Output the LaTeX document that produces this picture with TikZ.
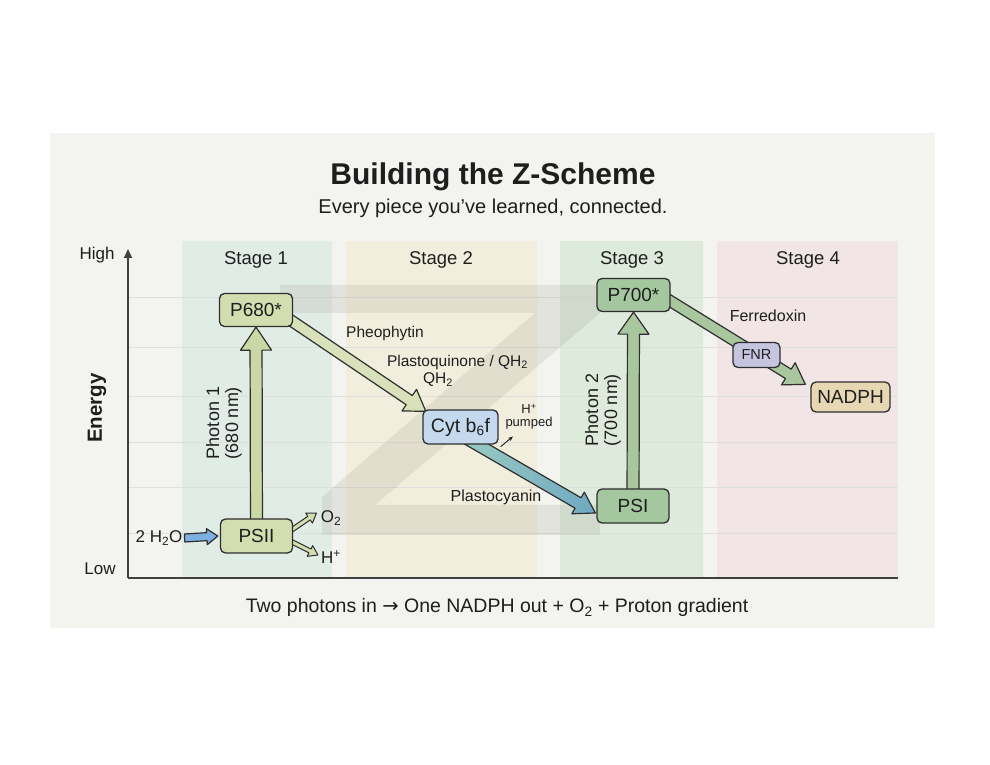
\documentclass[tikz,border=0pt]{standalone}
\usepackage{fontspec}
\setmainfont{Liberation Sans}
\newfontfamily\symfont{DejaVu Sans}
\usetikzlibrary{calc,arrows.meta}
\definecolor{panel}{HTML}{F3F4F0}
\definecolor{colA}{HTML}{E2ECE6}
\definecolor{colB}{HTML}{F2EEDD}
\definecolor{colC}{HTML}{DEEADB}
\definecolor{colD}{HTML}{F1E5E5}
\definecolor{gridc}{HTML}{DCDFDA}
\definecolor{edge}{HTML}{2E2E2E}
\definecolor{olive}{HTML}{D3DEB0}
\definecolor{oliveArr}{HTML}{C9D8A4}
\definecolor{oliveDiag}{HTML}{D8E1BA}
\definecolor{cytc}{HTML}{C4D8EE}
\definecolor{tealA}{HTML}{9ACAC2}
\definecolor{tealB}{HTML}{6FA8C2}
\definecolor{psgreen}{HTML}{A5C7A0}
\definecolor{arrgreen}{HTML}{A9C79E}
\definecolor{fnrc}{HTML}{C7C4E0}
\definecolor{nadphc}{HTML}{E7D7B2}
\definecolor{waterc}{HTML}{7DB0E0}
\definecolor{ink}{HTML}{1E1E1E}
\definecolor{zgray}{HTML}{8C8C80}

\pgfdeclarelayer{back}\pgfdeclarelayer{arr}\pgfsetlayers{back,arr,main}

\newcommand{\fatarrow}[6][]{%
  \path[#1] let \p1=(#2), \p2=(#3), \n1={atan2(\y2-\y1,\x2-\x1)}, \n2={veclen(\x2-\x1,\y2-\y1)} in
   [shift={(\p1)},rotate=\n1]
   (0,-#4) -- (\n2-#6,-#4) -- (\n2-#6,-#5) -- (\n2,0) -- (\n2-#6,#5) -- (\n2-#6,#4) -- (0,#4) -- cycle;}

\tikzset{
 box/.style={draw=edge, line width=1.3pt, rounded corners=5pt, inner sep=0pt, text=ink, font=\fontsize{19}{21}\selectfont},
 fat/.style={draw=edge, line width=1.2pt, line join=round},
 lbl/.style={text=ink, font=\fontsize{15.5}{17}\selectfont, inner sep=0pt},
 stagelbl/.style={text=ink, font=\fontsize{18.5}{20}\selectfont, inner sep=0pt, anchor=base},
 gridline/.style={draw=gridc, line width=0.8pt},
}

\begin{document}
\begin{tikzpicture}[x=1pt,y=1pt]
\begin{pgfonlayer}{back}
\fill[white] (0,0) rectangle (990,765);
\fill[panel] (50,137) rectangle (935,632);
\fill[colA] (182,187) rectangle (332,524);
\fill[colB] (346,187) rectangle (537,524);
\fill[colC] (560,187) rectangle (703,524);
\fill[colD] (717,187) rectangle (898,524);
\foreach \yy in {468,418,369,323,278,232} \draw[gridline] (128,\yy) -- (898,\yy);
\fill[zgray, opacity=0.16] (280,480) -- (600,480) -- (600,452) -- (375,260) -- (600,260) -- (600,230) -- (322,230) -- (322,268) -- (535,452) -- (280,452) -- cycle;
\end{pgfonlayer}

% titles
\node[font=\bfseries\fontsize{30}{34}\selectfont, text=ink, anchor=base, inner sep=0pt] (title) at (493,580) {Building the Z-Scheme};
\node[font=\fontsize{20}{22}\selectfont, text=ink, anchor=base, inner sep=0pt] (subtitle) at (493,551) {Every piece you’ve learned, connected.};

% axes
\draw[ink!85, line width=1.3pt, -{Triangle[length=9pt,width=8pt]}] (128,187) -- (128,516);
\draw[ink!85, line width=1.3pt] (128,187) -- (898,187);
\node[lbl, font=\fontsize{17}{19}\selectfont] (high) at (97,510) {High};
\node[lbl, font=\fontsize{17}{19}\selectfont] (low) at (100,196) {Low};
\node[lbl, rotate=90, font=\bfseries\fontsize{20.5}{22}\selectfont] (energy) at (97,357) {Energy};

% stage labels
\node[stagelbl] (s1) at (256,500) {Stage 1};
\node[stagelbl] (s2) at (441,500) {Stage 2};
\node[stagelbl] (s3) at (632,500) {Stage 3};
\node[stagelbl] (s4) at (808,500) {Stage 4};

% boxes
\node[box, fill=olive, minimum width=73pt, minimum height=33pt] (p680) at (256,455) {P680*};
\node[box, fill=olive, minimum width=72pt, minimum height=34pt] (psii) at (256.5,229) {PSII};
\node[box, fill=cytc, minimum width=75pt, minimum height=34pt, font=\fontsize{19.5}{21}\selectfont] (cyt) at (460.5,338) {Cyt b\textsubscript{6}f};
\node[box, fill=psgreen, minimum width=72pt, minimum height=34pt] (psi) at (633,259) {PSI};
\node[box, fill=psgreen, minimum width=73pt, minimum height=33pt] (p700) at (633.5,470) {P700*};
\node[box, fill=fnrc, minimum width=47pt, minimum height=25pt, font=\fontsize{14.5}{16}\selectfont] (fnr) at (756.5,410) {FNR};
\node[box, fill=nadphc, minimum width=79pt, minimum height=30pt] (nadph) at (850.5,368) {NADPH};

% side labels
\node[lbl, font=\fontsize{17}{19}\selectfont] (h2o) at (159,227) {2 H\textsubscript{2}O};
\node[lbl, font=\fontsize{17}{19}\selectfont] (o2) at (331,247) {O\textsubscript{2}};
\node[lbl, font=\fontsize{17}{19}\selectfont] (hp) at (331,208) {H\textsuperscript{+}};
\coordinate (o2tip) at (316.5,252);
\coordinate (hptip) at (318,210);
\node[lbl, rotate=90, align=center, font=\fontsize{18}{19}\selectfont] (ph1) at (224,342) {Photon 1\\(680 nm)};
\node[lbl, rotate=90, align=center, font=\fontsize{18}{19}\selectfont] (ph2) at (603,355) {Photon 2\\(700 nm)};
\node[lbl] (pheo) at (385,432) {Pheophytin};
\node[lbl] (pq) at (457.5,403) {Plastoquinone / QH\textsubscript{2}};
\node[lbl] (qh2) at (438,385) {QH\textsubscript{2}};
\node[lbl, font=\fontsize{16}{18}\selectfont] (pc) at (496,268) {Plastocyanin};
\node[lbl, font=\fontsize{16}{18}\selectfont] (fd) at (768,449) {Ferredoxin};
\node[lbl, align=center, font=\fontsize{13}{13}\selectfont] (pump) at (529,348) {H\textsuperscript{+}\\pumped};
\coordinate (pumptip) at (513,328.5);

% arrows
\begin{pgfonlayer}{arr}
\fatarrow[fat, fill=oliveArr]{psii.center}{p680.south}{6}{15.5}{23}
\fatarrow[fat, fill=arrgreen]{psi.center}{p700.south}{6}{15.5}{22}
\fatarrow[fat, fill=oliveDiag]{$(p680.center)+(14,3.7)$}{$(cyt.north west)+(3.5,-2)$}{5.5}{13}{20}
\fatarrow[fat, left color=tealA, right color=tealB]{$(cyt.center)+(5.5,-11)$}{$(psi.west)+(-1,-7)$}{6}{12.5}{20}
\fatarrow[fat, fill=arrgreen]{$(p700.center)+(16.5,6.5)$}{$(nadph.north west)+(-5,-3)$}{5.5}{13}{20}
\fatarrow[fat, fill=waterc]{$(h2o.east)+(2,0)$}{$(psii.west)+(-2,0)$}{4}{8}{11}
\fatarrow[fat, fill=olive, line width=1pt]{$(psii.east)+(-3,5)$}{o2tip}{2.2}{6}{9}
\fatarrow[fat, fill=olive, line width=1pt]{$(psii.east)+(-3,-5)$}{hptip}{2.2}{6}{9}
\end{pgfonlayer}
\draw[ink, line width=0.9pt, -{Stealth[length=5pt,width=4pt]}] ($(cyt.south east)+(2,-2)$) -- (pumptip);

% bottom line
\node[font=\fontsize{19.5}{22}\selectfont, text=ink, anchor=base, inner sep=0pt] (bottom) at (497,152) {Two photons in {\symfont →} One NADPH out + O\textsubscript{2} + Proton gradient};
\end{tikzpicture}
\end{document}
